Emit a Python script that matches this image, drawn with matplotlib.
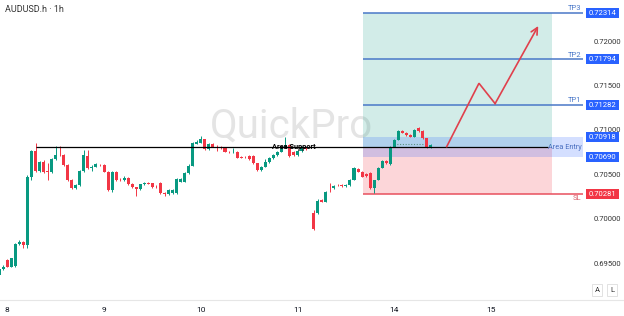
import numpy as np
import matplotlib
matplotlib.use("Agg")
import matplotlib.pyplot as plt
from matplotlib.patches import Rectangle
from matplotlib.lines import Line2D
import matplotlib.transforms as mtransforms

plt.rcParams['font.family'] = ['Roboto', 'DejaVu Sans']

# hourly bars, index 0 = first bar of day 8 (bar 75 missing)
bars = [-2, -1, 0, 1, 2, 3, 4, 5, 6, 7, 8, 9, 10, 11, 12, 13, 14, 15, 16, 17,
        18, 19, 20, 21, 22, 23, 24, 25, 26, 27, 28, 29, 30, 31, 32, 33, 34, 35,
        36, 37, 38, 39, 40, 41, 42, 43, 44, 45, 46, 47, 48, 49, 50, 51, 52, 53,
        54, 55, 56, 57, 58, 59, 60, 61, 62, 63, 64, 65, 66, 67, 68, 69, 70, 71,
        72, 73, 74, 76, 77, 78, 79, 80, 81, 82, 83, 84, 85, 86, 87, 88, 89, 90,
        91, 92, 93, 94, 95, 96, 97, 98, 99, 100, 101, 102, 103, 104, 105]

opens = [.69366, .69430, .69535, .69460, .69470, .69711, .69735, .69704, .70473, .70762,
         .70537, .70634, .70537, .70522, .70668, .70717, .70717, .70604, .70435, .70342,
         .70379, .70537, .70706, .70567, .70586, .70604, .70604, .70529, .70323, .70529,
         .70440, .70435, .70462, .70390, .70353, .70334, .70387, .70398, .70398, .70360,
         .70405, .70285, .70274, .70285, .70285, .70417, .70417, .70510, .70597, .70841,
         .70856, .70893, .70781, .70841, .70811, .70811, .70792, .70754, .70747, .70754,
         .70698, .70698, .70706, .70706, .70623, .70548, .70586, .70641, .70679, .70716,
         .70754, .70800, .70829, .70754, .70716, .70760, .70800,
         .70060, .70060, .70210, .70191, .70342, .70342, .70379, .70379, .70370, .70379,
         .70435, .70559, .70530, .70503, .70510, .70342, .70435, .70574, .70649, .70612,
         .70811, .70886, .70991, .70968, .70942, .70923, .71017, .70987, .70905, .70799]

highs = [.69440, .69475, .69550, .69560, .69720, .69760, .69745, .70490, .70775, .70848,
         .70650, .70660, .70623, .70680, .70822, .70822, .70725, .70615, .70445, .70390,
         .70550, .70773, .70773, .70600, .70625, .70615, .70620, .70540, .70540, .70540,
         .70455, .70475, .70470, .70400, .70360, .70395, .70410, .70415, .70405, .70375,
         .70410, .70295, .70335, .70335, .70455, .70460, .70520, .70610, .70860, .70880,
         .70931, .70900, .70850, .70850, .70830, .70820, .70800, .70765, .70790, .70760,
         .70705, .70710, .70712, .70712, .70630, .70595, .70675, .70690, .70725, .70765,
         .70810, .70923, .70840, .70760, .70770, .70820, .70810,
         .70098, .70218, .70218, .70310, .70398, .70380, .70390, .70385, .70385, .70445,
         .70580, .70570, .70540, .70510, .70520, .70440, .70580, .70660, .70655, .70815,
         .70895, .71000, .71000, .70975, .70950, .71005, .71036, .70995, .70910, .70840]

lows = [.69291, .69420, .69450, .69455, .69460, .69700, .69666, .69666, .70440, .70520,
        .70520, .70510, .70435, .70510, .70660, .70700, .70590, .70420, .70330, .70330,
        .70370, .70530, .70555, .70540, .70580, .70590, .70520, .70310, .70300, .70425,
        .70420, .70425, .70380, .70340, .70255, .70320, .70380, .70385, .70340, .70345,
        .70275, .70255, .70265, .70280, .70280, .70410, .70410, .70500, .70590, .70835,
        .70850, .70770, .70775, .70805, .70760, .70785, .70745, .70740, .70740, .70680,
        .70680, .70685, .70665, .70615, .70540, .70540, .70580, .70630, .70670, .70710,
        .70745, .70790, .70690, .70705, .70700, .70750, .70770,
        .69872, .70050, .70185, .70185, .70304, .70335, .70365, .70360, .70355, .70370,
        .70430, .70520, .70465, .70470, .70330, .70285, .70430, .70565, .70615, .70600,
        .70805, .70880, .70960, .70935, .70915, .70915, .70980, .70895, .70790, .70790]

closes = [.69430, .69460, .69460, .69553, .69711, .69741, .69704, .70473, .70762, .70537,
          .70634, .70522, .70530, .70668, .70717, .70712, .70604, .70435, .70342, .70379,
          .70537, .70717, .70567, .70586, .70612, .70600, .70529, .70323, .70529, .70435,
          .70435, .70462, .70390, .70353, .70334, .70387, .70398, .70395, .70353, .70357,
          .70285, .70274, .70323, .70323, .70447, .70447, .70510, .70597, .70848, .70867,
          .70893, .70781, .70841, .70811, .70808, .70792, .70754, .70752, .70754, .70687,
          .70687, .70695, .70672, .70623, .70548, .70586, .70641, .70679, .70716, .70754,
          .70800, .70829, .70700, .70716, .70760, .70800, .70780,
          .69880, .70203, .70191, .70304, .70340, .70368, .70376, .70368, .70372, .70435,
          .70567, .70530, .70474, .70480, .70342, .70435, .70574, .70649, .70622, .70811,
          .70886, .70991, .70968, .70942, .70923, .70998, .70987, .70905, .70799, .70830]

day_ticks = [0, 24, 48, 72, 96, 120]
day_labels = ['8', '9', '10', '11', '14', '15']
price_ticks = [0.695, 0.700, 0.705, 0.710, 0.715, 0.720]

entry = 0.70805
entry_top, entry_bottom = 0.70918, 0.70690
stop = 0.70281
targets = [0.71282, 0.71794, 0.72314]
target_names = ['TP1', 'TP2', 'TP3']
support = 0.70805
path_x = [109.0, 117.0, 121.0, 131.7]
path_y = [0.70811, 0.71524, 0.71295, 0.72169]

UP = '#089981'
DOWN = '#f23645'
BLUE = '#2962ff'
LINE_BLUE = '#4a78c8'

fig = plt.figure(figsize=(6.24, 3.16), dpi=100)
ax = fig.add_axes([0, 16 / 316, 585 / 624, 300 / 316])
ax.set_xlim(-1.81, 143.3)
ax.set_ylim(0.690837, 0.724617)

x = np.array(bars, dtype=float)
o = np.array(opens)
h = np.array(highs)
l = np.array(lows)
c = np.array(closes)
cols = np.where(c >= o, UP, DOWN)

ax.vlines(x, l, h, colors=cols, lw=0.7, zorder=3)
body = np.maximum(np.abs(c - o), 0.00003)
ax.bar(x, body, bottom=np.minimum(o, c), width=0.75, color=cols, lw=0, zorder=4)

# position tool zones
x0, x1 = 88.2, 135.1
ax.add_patch(Rectangle((x0, entry), x1 - x0, targets[2] - entry,
                       facecolor='#089981', alpha=0.18, lw=0, zorder=1))
ax.add_patch(Rectangle((x0, stop), x1 - x0, entry - stop,
                       facecolor='#f23645', alpha=0.2, lw=0, zorder=1))
ax.add_patch(Rectangle((x0, entry_bottom), 142.8 - x0, entry_top - entry_bottom,
                       facecolor=BLUE, alpha=0.2, lw=0, zorder=2))
ax.hlines(0.70840, 96, 104, color='#5a8f80', lw=0.8, ls=(0, (1, 1.5)), zorder=2)

for t, name in zip(targets, target_names):
    ax.hlines(t, x0, 142.8, color=LINE_BLUE, lw=1.1, zorder=2)
    ax.text(142.4, t + 0.0002, name, ha='right', va='bottom', fontsize=5.5,
            color=LINE_BLUE, zorder=6)
ax.hlines(stop, x0, 142.8, color='#e8505e', lw=1.1, zorder=2)
ax.text(142.4, stop - 0.0002, 'SL', ha='right', va='top', fontsize=5.5,
        color='#d9606c', zorder=6)

ax.hlines(support, 7.1, 134.1, color='black', lw=0.9, zorder=5)
ax.text(71.1, support, 'Area Support', ha='center', va='center', fontsize=5.3,
        fontweight='bold', color='black', zorder=6)
ax.text(142.6, support, 'Area Entry', ha='right', va='center', fontsize=5.3,
        color='#4a6fc0', zorder=6)

ax.plot(path_x[:3], path_y[:3], color='#e0404c', lw=1.2, zorder=6,
        solid_joinstyle='miter')
ax.annotate('', xy=(path_x[3], path_y[3]), xytext=(path_x[2], path_y[2]),
            arrowprops=dict(arrowstyle='->', color='#e0404c', lw=1.2,
                            mutation_scale=12, shrinkA=0, shrinkB=0), zorder=6)

ax.text(291 / 624, 1 - 126 / 316, 'QuickPro', transform=fig.transFigure,
        ha='center', va='center', fontsize=29, color='#e4e4e4', zorder=0)

# axes styling
for s in ['top', 'left', 'right', 'bottom']:
    ax.spines[s].set_visible(False)
fig.add_artist(Line2D([0, 1], [16 / 316, 16 / 316], transform=fig.transFigure,
                      color='#e6e6e6', lw=0.8))
ax.set_xticks(day_ticks, day_labels)
ax.tick_params(axis='x', length=0, pad=5, labelsize=6, labelcolor='#131722')
ax.yaxis.tick_right()
ax.set_yticks(price_ticks, [f'{p:.5f}' for p in price_ticks])
ax.tick_params(axis='y', length=0, pad=6, labelsize=5.5, labelcolor='#333333')
ax.grid(False)

# price tags on the scale
trans = mtransforms.blended_transform_factory(ax.transAxes, ax.transData)
tags = [(targets[2], BLUE), (targets[1], BLUE), (targets[0], BLUE),
        (entry_top, BLUE), (entry_bottom, BLUE), (stop, DOWN)]
for p, col in tags:
    ax.add_patch(Rectangle((586 / 585, p - 0.00058), 33 / 585, 0.00116,
                           transform=trans, facecolor=col, lw=0,
                           clip_on=False, zorder=7))
    ax.text(602.5 / 585, p, f'{p:.5f}', transform=trans, ha='center',
            va='center', fontsize=5.5, color='white', clip_on=False, zorder=8)

fig.text(5 / 624, 1 - 10 / 316, 'AUDUSD.h · 1h', ha='left', va='center',
         fontsize=6.5, color='#333333')
for lx, lab in [(597, 'A'), (612, 'L')]:
    fig.text(lx / 624, 1 - 290 / 316, lab, ha='center', va='center',
             fontsize=5.5, color='#333333',
             bbox=dict(boxstyle='square,pad=0.35', facecolor='white',
                       edgecolor='#dddddd', lw=0.6))

fig.savefig('out.png', dpi=100)
